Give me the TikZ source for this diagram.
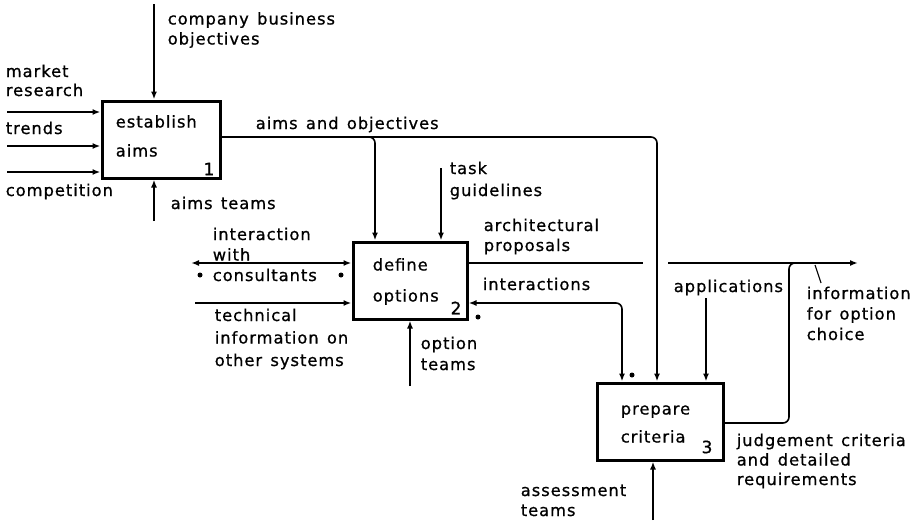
\documentclass[tikz,border=0pt]{standalone}
\usepackage{fontspec}
\setmainfont{DejaVu Sans}[LetterSpace=6, WordSpace=1.35, FakeBold=0.8]
\usetikzlibrary{arrows.meta}
\begin{document}
\begin{tikzpicture}[x=1pt,y=-1pt,
  >={Latex[length=8pt,width=6pt]},
  lbl/.style={font=\fontsize{16.3}{#1}\selectfont, inner sep=0pt, align=left, anchor=base west},
  lbl/.default=21,
  num/.style={font=\fontsize{17}{20}\selectfont, inner sep=0pt},
  proc/.style={draw, line width=3pt, minimum width=#1, minimum height=77pt, inner sep=0pt},
  dot/.style={circle, fill, inner sep=0pt, minimum size=5pt},
  every path/.style={line width=1.6pt}
]
\useasboundingbox (0,0) rectangle (916,522);

% process boxes
\node[proc=118pt] (b1) at (161,139.5) {};
\node[proc=114pt] (b2) at (410,280.5) {};
\node[proc=126pt] (b3) at (660,421.5) {};

% texts in boxes (anchor = baseline of last line)
\node[lbl=29] (b1t) at (115,156.5) {establish\\aims};
\node[lbl=31] (b2t) at (372,301.5) {define\\options};
\node[lbl=28] (b3t) at (620,442.5) {prepare\\criteria};
\node[num] (n1) at (209,169) {1};
\node[num] (n2) at (456,308) {2};
\node[num] (n3) at (707,447) {3};

% labels (anchor = baseline of last line)
\node[lbl=20] (lcbo) at (167,44.5) {company business\\objectives};
\node[lbl=19] (lmr) at (5,96) {market\\research};
\node[lbl] (ltr) at (5,134) {trends};
\node[lbl] (lco) at (5,196) {competition};
\node[lbl] (lat) at (170,209) {aims teams};
\node[lbl] (lao) at (255,129) {aims and objectives};
\node[lbl=22] (ltg) at (449,196) {task\\guidelines};
\node[lbl=20] (lap) at (483,251) {architectural\\proposals};
\node[lbl=20.5] (lic) at (212,281) {interaction\\with\\consultants};
\node[lbl=22.5] (lti) at (214,366) {technical\\information on\\other systems};
\node[lbl=21] (lot) at (420,370) {option\\teams};
\node[lbl] (lix) at (482,290) {interactions};
\node[lbl] (lapl) at (673,292) {applications};
\node[lbl=20.5] (lif) at (806,340) {information\\for option\\choice};
\node[lbl=19.5] (ljc) at (736,485) {judgement criteria\\and detailed\\requirements};
\node[lbl=20] (las) at (520,516) {assessment\\teams};

% free ends and corners
\coordinate (cbo) at (154,4);
\coordinate (mr) at (7,112);
\coordinate (tr) at (7,146);
\coordinate (co) at (7,172);
\coordinate (at) at (154,221);
\coordinate (ao3) at (657,137);
\coordinate (ao2) at (375,137);
\coordinate (tg) at (441,168);
\coordinate (ic) at (191,263);
\coordinate (ti) at (195,303);
\coordinate (ot) at (410,386);
\coordinate (ap) at (643,263);
\coordinate (ap2) at (668,263);
\coordinate (ifo) at (858,263);
\coordinate (ix) at (622,303);
\coordinate (apl) at (706,298);
\coordinate (jc) at (789,423);
\coordinate (as) at (653,520);
\coordinate (tk1) at (815,265);
\coordinate (tk2) at (821,283);

% box 1
\draw[->] (cbo) -- (cbo |- b1.north);
\draw[->] (mr) -- (mr -| b1.west);
\draw[->] (tr) -- (tr -| b1.west);
\draw[->] (co) -- (co -| b1.west);
\draw[->] (at) -- (at |- b1.south);
\draw[->, rounded corners=6pt] (b1.east |- ao3) -- (ao3) -- (ao3 |- b3.north);
\draw[->, rounded corners=6pt] ([xshift=-20pt]ao2) -- (ao2) -- (ao2 |- b2.north);

% box 2
\draw[->] (tg) -- (tg |- b2.north);
\draw[<->] (ic) -- (ic -| b2.west);
\draw[->] (ti) -- (ti -| b2.west);
\draw[->] (ot) -- (ot |- b2.south);
\draw (b2.east |- ap) -- (ap);
\draw[->] (ap2) -- (ifo);
\draw[<->, rounded corners=6pt] (b2.east |- ix) -- (ix) -- (ix |- b3.north);

% box 3
\draw[->] (apl) -- (apl |- b3.north);
\draw[rounded corners=6pt] (b3.east |- jc) -- (jc) -- (jc |- ap2) -- ++(14,0);
\draw[->] (as) -- (as |- b3.south);
\draw[line width=1.1pt] (tk1) -- (tk2);

% dots
\node[dot] (d1) at (200,275) {};
\node[dot] (d2) at (341,275) {};
\node[dot] (d3) at (478,317) {};
\node[dot] (d4) at (632,375) {};
\end{tikzpicture}
\end{document}
